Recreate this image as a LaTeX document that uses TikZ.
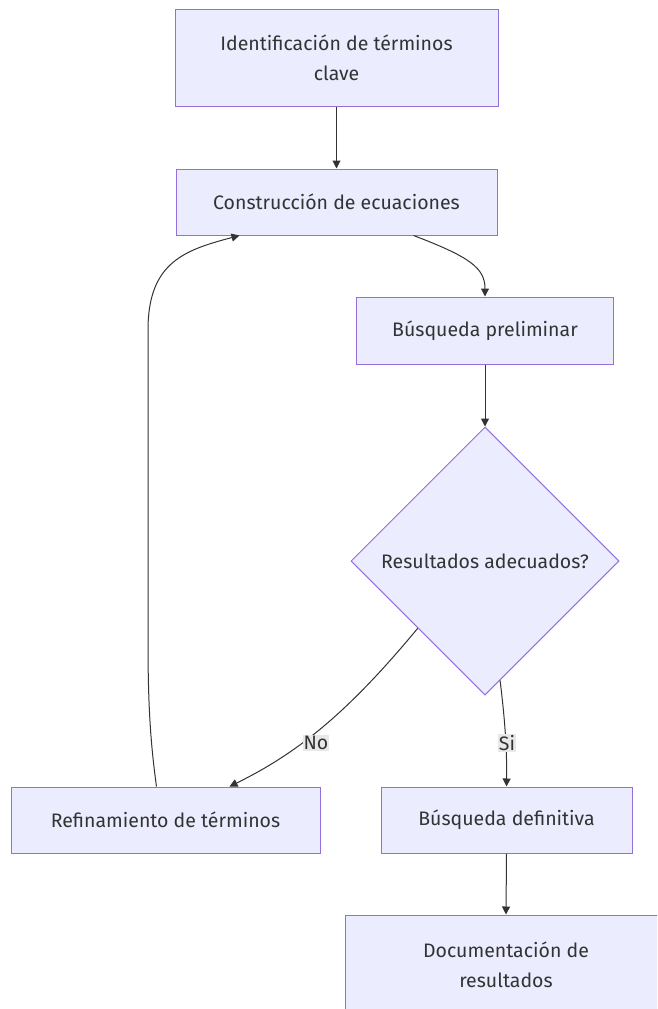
\documentclass[tikz,border=0pt]{standalone}
\usepackage{fontspec}
\setmainfont{Fira Sans}
\usetikzlibrary{shapes.geometric,arrows.meta,calc}
\definecolor{nodefill}{HTML}{ECECFF}
\definecolor{nodeline}{HTML}{9370DB}
\definecolor{txt}{HTML}{333333}
\definecolor{lblbg}{HTML}{E8E8E8}
\tikzset{
  box/.style={draw=nodeline, fill=nodefill, line width=1pt, text=txt, align=center,
    font=\fontsize{19.5pt}{30.5pt}\selectfont, inner sep=0pt, anchor=center},
  decision/.style={diamond, draw=nodeline, fill=nodefill, line width=1pt, text=txt,
    font=\fontsize{19.5pt}{30pt}\selectfont, inner sep=0pt, minimum width=268pt, minimum height=268pt},
  conn/.style={draw=txt, line width=1pt, -{Triangle[length=8pt,width=8pt]}},
  lbl/.style={fill=lblbg, text=txt, font=\fontsize{19.5pt}{22pt}\selectfont, inner sep=1pt}
}
\begin{document}
\begin{tikzpicture}[x=1pt,y=-1pt]
\useasboundingbox (0,0) rectangle (657,1009);
\clip (0,0) rectangle (657,1009);
\fill[white] (0,0) rectangle (657,1009);
\node[box, minimum width=323pt, minimum height=97pt] (b1) at (336.5,58) {Identificación de términos\\clave};
\node[box, minimum width=321pt, minimum height=66pt] (b2) at (336.5,202) {Construcción de ecuaciones};
\node[box, minimum width=257pt, minimum height=67pt] (b3) at (485,330.5) {Búsqueda preliminar};
\node[decision] (d) at (485,561) {Resultados adecuados?};
\node[box, minimum width=309pt, minimum height=66pt] (b4) at (165.5,820) {Refinamiento de términos};
\node[box, minimum width=251pt, minimum height=66pt] (b5) at (506.5,820) {Búsqueda definitiva};
\node[box, minimum width=322pt, minimum height=100pt] (b6) at (506,965) {Documentación de\\resultados};

\coordinate (b2out) at ([xshift=-84pt]b2.south east);
\coordinate (b2in) at ([xshift=64pt]b2.south west);
\coordinate (b4out) at ([xshift=146pt]b4.north west);
\coordinate (dno) at (d.-135);
\coordinate (dsi) at ($(d.south)!0.112!(d.east)$);
\coordinate (b4in) at ([xshift=219pt]b4.north west);
\coordinate (b5in) at (b5.north);

\draw[conn] (b1.south) -- (b2.north);
\draw[conn] (b2out) .. controls (470,257) and (485,268) .. (b3.north);
\draw[conn] (b3.south) -- (d.north);
\draw[conn] (dno) .. controls (350,710) and (300,752) .. (b4in);
\draw[conn] (dsi) .. controls (505,720) and (507,750) .. (b5in);
\draw[conn] (b4out) .. controls (150,740) and (148,700) .. (148,640) -- (148,330) .. controls (148,262) and (185,250) .. (b2in);
\draw[conn] (b5.south) -- (b6.north);

\node[lbl] (no) at (316,743) {No};
\node[lbl] (si) at (507,743) {Si};
\end{tikzpicture}
\end{document}
